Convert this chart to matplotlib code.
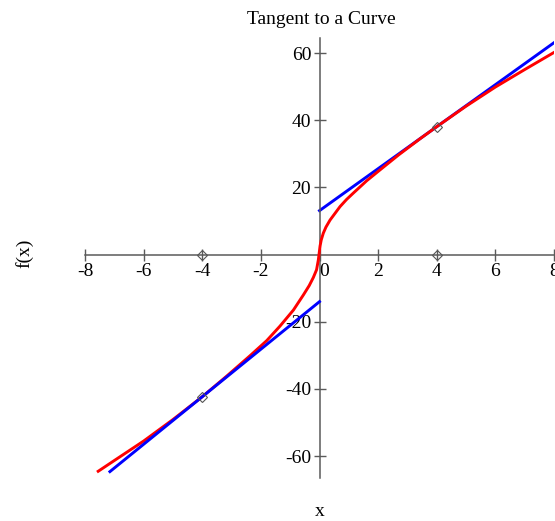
import matplotlib
matplotlib.use("Agg")
import matplotlib.pyplot as plt

plt.rcParams["font.family"] = ["Liberation Serif", "DejaVu Serif"]
plt.rcParams["axes.unicode_minus"] = False

# f(x) sampled along the curve
curve_x = [-7.55, -7.00, -6.00, -5.00, -4.00, -3.17, -2.37, -1.80, -1.35, -0.89,
           -0.55, -0.35, -0.21, -0.10, -0.04, 0.02, 0.06, 0.13, 0.22, 0.36,
           0.70, 0.92, 1.15, 1.61, 2.06, 2.70, 3.43, 4.00, 5.00, 6.00,
           7.00, 7.98]
curve_y = [-64.5, -61.3, -55.5, -49.1, -42.3, -36.2, -30.1, -25.6, -21.3, -16.5,
           -12.0, -9.2, -6.8, -4.5, -1.6, 2.6, 4.4, 6.4, 8.2, 10.3,
           14.3, 16.4, 18.3, 22.0, 25.2, 29.7, 34.5, 38.1, 44.2, 49.9,
           55.1, 60.1]

# tangent lines at x = 4 and x = -4
tan_right_x = [0.0, 8.0]
tan_right_y = [13.1, 63.1]
tan_left_x = [-7.15, 0.0]
tan_left_y = [-64.6, -14.0]

# points of tangency and their feet on the x-axis
touch_x = [-4.0, 4.0]
touch_y = [-42.3, 38.1]
foot_y = [0.0, 0.0]

xticks = [-8, -6, -4, -2, 0, 2, 4, 6, 8]
xtick_labels = ["-8", "-6", "-4", "-2", "", "2", "4", "6", "8"]
yticks = [-60, -40, -20, 20, 40, 60]
ytick_labels = ["-60", "-40", "-20", "20", "40", "60"]

fig = plt.figure(figsize=(5.55, 5.21), dpi=100)
ax = fig.add_axes([85 / 555, 43 / 521, 469 / 555, 440 / 521])
ax.set_xlim(-8, 8)
ax.set_ylim(-66.5, 64.5)

axis_color = "#5a5a5a"
for side in ("top", "right"):
    ax.spines[side].set_visible(False)
for side in ("left", "bottom"):
    ax.spines[side].set_position(("data", 0))
    ax.spines[side].set_color(axis_color)
    ax.spines[side].set_linewidth(1.1)

ax.plot(tan_right_x, tan_right_y, color="#0000ff", lw=2.1, zorder=2)
ax.plot(curve_x, curve_y, color="#ff0000", lw=2.1, zorder=3)
ax.plot(tan_left_x, tan_left_y, color="#0000ff", lw=2.1, zorder=4)

ax.plot(touch_x, touch_y, ls="none", marker="D", ms=5.5, mfc="none",
        mec="#555555", mew=0.8, zorder=5)
ax.plot(touch_x, foot_y, ls="none", marker="D", ms=5.5, mfc="none",
        mec="#555555", mew=0.8, zorder=5, clip_on=False)

ax.set_xticks(xticks)
ax.set_xticklabels(xtick_labels)
ax.set_yticks(yticks)
ax.set_yticklabels(ytick_labels)
ax.tick_params(axis="both", direction="inout", length=8, width=1.0,
               color=axis_color, labelsize=14, labelcolor="black", pad=2)

ax.annotate("0", xy=(0, 0), xytext=(3, -6), textcoords="offset points",
            ha="center", va="top", fontsize=14)

fig.text(321 / 555, 1 - 19 / 521, "Tangent to a Curve", ha="center",
         va="center", fontsize=14)
fig.text(24 / 555, 1 - 253 / 521, "f(x)", ha="center", va="center",
         rotation=90, fontsize=14)
fig.text(320 / 555, 1 - 512 / 521, "x", ha="center", va="center",
         fontsize=14)

fig.savefig("out.png", dpi=100)
